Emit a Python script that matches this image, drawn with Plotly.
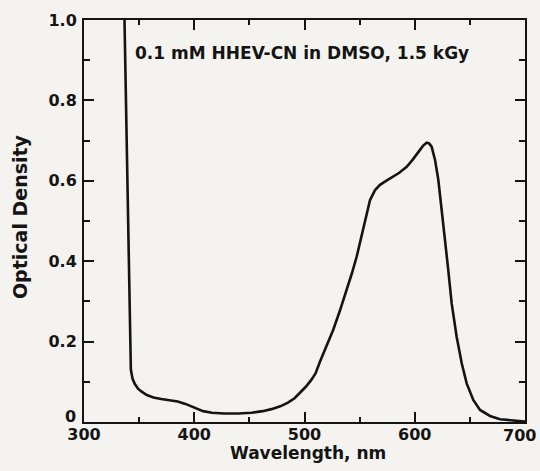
import plotly.graph_objects as go

# Data
wavelength_nm = [336.6, 338.0, 339.5, 340.7, 341.8, 342.5, 344.0, 346.0, 349.0, 352.0,
                 357.0, 363.0, 370.0, 378.0, 385.0, 392.0, 400.0, 408.0, 416.0, 427.0,
                 440.0, 452.0, 462.0, 470.0, 478.0, 485.0, 491.0, 496.0, 501.0, 506.0,
                 510.0, 514.0, 520.0, 526.0, 532.0, 538.3, 543.0, 547.3, 553.4, 559.4,
                 564.0, 568.5, 574.0, 580.6, 586.0, 592.7, 598.0, 604.8, 607.5, 610.8,
                 613.0, 615.3, 618.4, 621.4, 624.4, 627.4, 630.4, 633.5, 638.0, 642.6,
                 647.1, 653.1, 659.2, 668.3, 677.3, 689.4, 698.0, 700.0]
optical_density = [1.02, 0.80, 0.60, 0.40, 0.20, 0.13, 0.108, 0.095, 0.083, 0.076,
                   0.067, 0.061, 0.057, 0.054, 0.051, 0.045, 0.036, 0.027, 0.023, 0.021,
                   0.021, 0.023, 0.027, 0.032, 0.039, 0.048, 0.059, 0.072, 0.087, 0.104,
                   0.121, 0.150, 0.188, 0.229, 0.276, 0.328, 0.370, 0.411, 0.486, 0.552,
                   0.577, 0.590, 0.600, 0.610, 0.620, 0.635, 0.652, 0.677, 0.687, 0.695,
                   0.693, 0.685, 0.652, 0.602, 0.519, 0.453, 0.378, 0.295, 0.212, 0.146,
                   0.096, 0.055, 0.030, 0.015, 0.007, 0.003, 0.001, 0.001]

x_tickvals = [300, 400, 500, 600, 700]
x_ticktext = ["300", "400", "500", "600", ""]
x_last_label = "700"
y_tickvals = [0, 0.2, 0.4, 0.6, 0.8, 1.0]
y_ticktext = ["", "0.2", "0.4", "0.6", "0.8", "1.0"]
y_zero_label = "0"

label_text = "0.1 mM HHEV-CN in DMSO, 1.5 kGy"
x_title = "Wavelength, nm"
y_title = "Optical Density"

ink = "#141414"
font_fam = "DejaVu Sans"
tick_font = dict(family=font_fam, size=16, color=ink, weight="bold")

fig = go.Figure()
fig.add_trace(go.Scatter(
    x=wavelength_nm, y=optical_density, mode="lines",
    line=dict(color=ink, width=2.6), showlegend=False, hoverinfo="skip"))

axis_common = dict(
    showline=True, linewidth=2, linecolor=ink, mirror="ticks",
    ticks="inside", ticklen=10, tickwidth=2, tickcolor=ink,
    showgrid=False, zeroline=False, tickfont=tick_font,
)

fig.update_xaxes(range=[300, 700], tickmode="array", tickvals=x_tickvals,
                 ticktext=x_ticktext, ticklabelstandoff=-3,
                 minor=dict(ticks="inside", ticklen=5, tickwidth=2, tickcolor=ink,
                            tickmode="array", tickvals=[350, 450, 550, 650]),
                 **axis_common)
fig.update_yaxes(range=[0, 1.0], tickmode="array", tickvals=y_tickvals,
                 ticktext=y_ticktext, ticklabelstandoff=2,
                 minor=dict(ticks="inside", ticklen=6, tickwidth=2, tickcolor=ink,
                            tickmode="array", tickvals=[0.1, 0.3, 0.5, 0.7, 0.9]),
                 **axis_common)

fig.add_annotation(x=0, y=0.013, xref="paper", yref="paper", text=y_zero_label,
                   showarrow=False, xanchor="right", yanchor="middle", xshift=-6,
                   font=tick_font)
fig.add_annotation(x=1.0295, y=-0.0335, xref="paper", yref="paper", text=x_last_label,
                   showarrow=False, xanchor="right", yanchor="middle",
                   font=tick_font)
fig.add_annotation(x=344.5, y=0.918, xref="x", yref="y", text=label_text,
                   showarrow=False, xanchor="left", yanchor="middle",
                   font=dict(family=font_fam, size=17, color=ink, weight="bold"))
fig.add_annotation(x=0.508, y=-0.076, xref="paper", yref="paper", text=x_title,
                   showarrow=False, xanchor="center", yanchor="middle",
                   font=dict(family=font_fam, size=17, color=ink, weight="bold"))
fig.add_annotation(x=-0.145, y=0.51, xref="paper", yref="paper", text=y_title,
                   showarrow=False, xanchor="center", yanchor="middle", textangle=-90,
                   font=dict(family=font_fam, size=19, color=ink, weight="bold"))

fig.update_layout(
    width=540, height=471,
    margin=dict(l=84, r=15, t=20, b=49, autoexpand=False),
    paper_bgcolor="#f4f3ef", plot_bgcolor="#f4f3ef",
)

fig.write_html("out.html", config={"displayModeBar": False},
               post_script="document.body.style.margin='0';"
                           "document.body.style.background='#f4f3ef';")
